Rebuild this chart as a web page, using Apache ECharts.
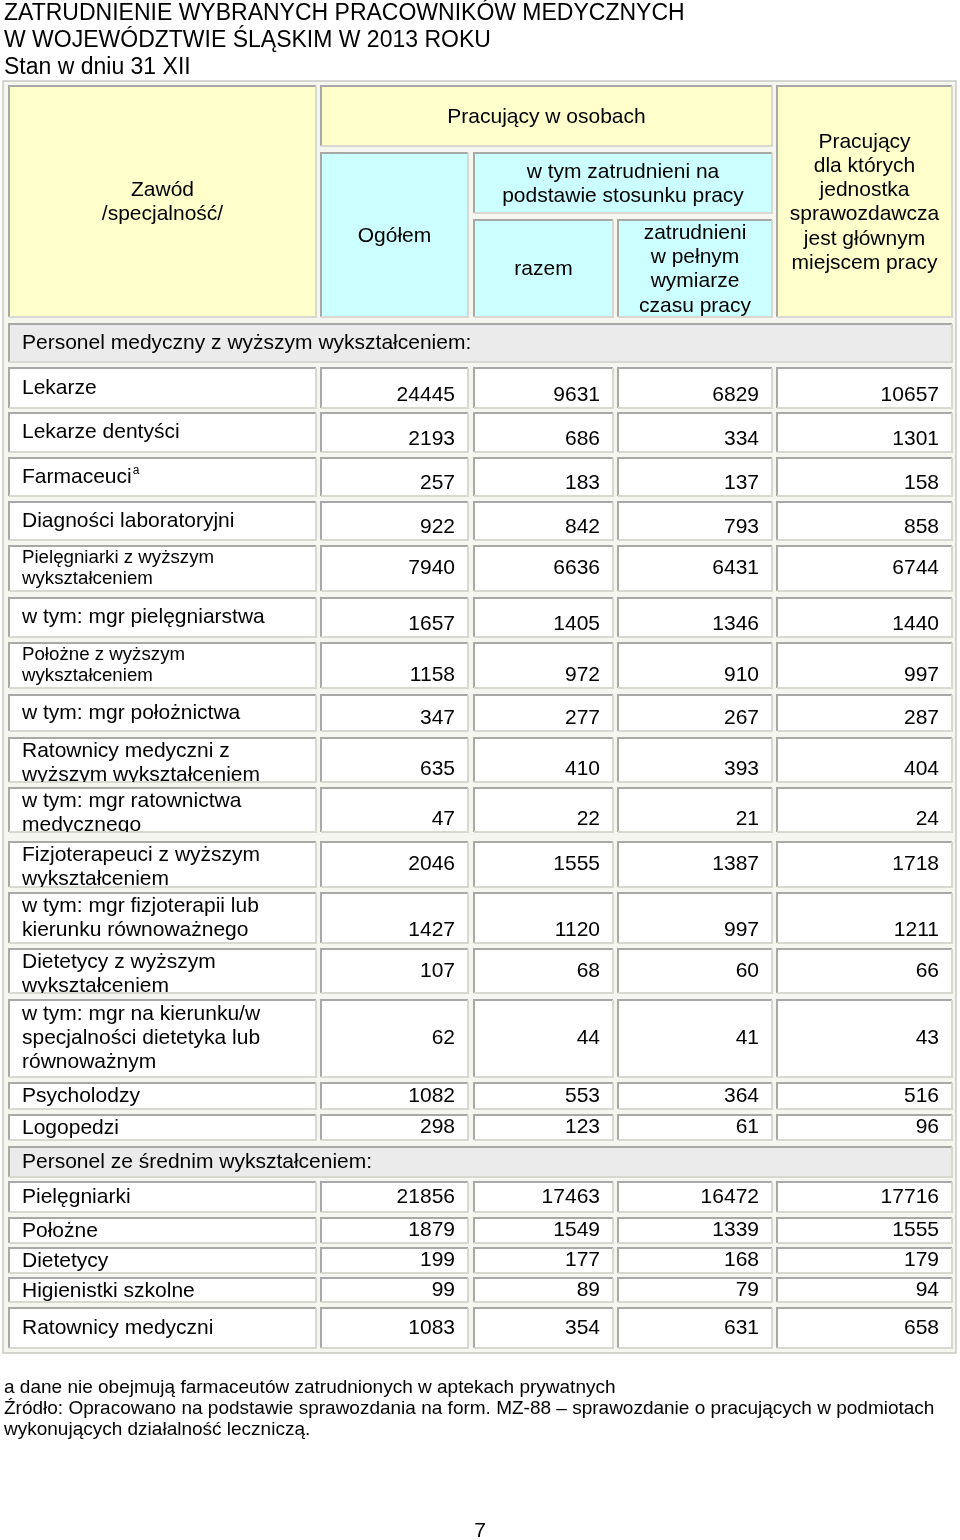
<!DOCTYPE html>
<html>
<head>
<meta charset="utf-8">
<title>Zatrudnienie wybranych pracowników medycznych</title>
<script src="https://cdn.jsdelivr.net/npm/echarts@6/dist/echarts.min.js"></script>
<style>
  html, body { margin: 0; padding: 0; background: #fff; }
  #main { width: 960px; height: 1540px; }
</style>
</head>
<body>
<div id="main"></div>
<script>
// ---- dane ----
var headerLabels = [
  'Zawód\n/specjalność/',
  'Pracujący w osobach',
  'Ogółem',
  'w tym zatrudnieni na\npodstawie stosunku pracy',
  'razem',
  'zatrudnieni\nw pełnym\nwymiarze\nczasu pracy',
  'Pracujący\ndla których\njednostka\nsprawozdawcza\njest głównym\nmiejscem pracy'
];

var groupHigher = 'Personel medyczny z wyższym wykształceniem:';
var professionsHigher = [
  'Lekarze', 'Lekarze dentyści', 'Farmaceuci', 'Diagności laboratoryjni',
  'Pielęgniarki z wyższym\nwykształceniem', 'w tym: mgr pielęgniarstwa',
  'Położne z wyższym\nwykształceniem', 'w tym: mgr położnictwa',
  'Ratownicy medyczni z\nwyższym wykształceniem', 'w tym: mgr ratownictwa\nmedycznego',
  'Fizjoterapeuci z wyższym\nwykształceniem', 'w tym: mgr fizjoterapii lub\nkierunku równoważnego',
  'Dietetycy z wyższym\nwykształceniem', 'w tym: mgr na kierunku/w\nspecjalności dietetyka lub\nrównoważnym',
  'Psycholodzy', 'Logopedzi'
];
var ogolemHigher = [24445, 2193, 257, 922, 7940, 1657, 1158, 347, 635, 47, 2046, 1427, 107, 62, 1082, 298];
var razemHigher  = [9631, 686, 183, 842, 6636, 1405, 972, 277, 410, 22, 1555, 1120, 68, 44, 553, 123];
var pelnyHigher  = [6829, 334, 137, 793, 6431, 1346, 910, 267, 393, 21, 1387, 997, 60, 41, 364, 61];
var glownyHigher = [10657, 1301, 158, 858, 6744, 1440, 997, 287, 404, 24, 1718, 1211, 66, 43, 516, 96];

var groupSecondary = 'Personel ze średnim wykształceniem:';
var professionsSecondary = ['Pielęgniarki', 'Położne', 'Dietetycy', 'Higienistki szkolne', 'Ratownicy medyczni'];
var ogolemSecondary = [21856, 1879, 199, 99, 1083];
var razemSecondary  = [17463, 1549, 177, 89, 354];
var pelnySecondary  = [16472, 1339, 168, 79, 631];
var glownySecondary = [17716, 1555, 179, 94, 658];

var footnoteMarks = { 'Farmaceuci': 'a' };

var titleText = 'ZATRUDNIENIE WYBRANYCH PRACOWNIKÓW MEDYCZNYCH\nW WOJEWÓDZTWIE ŚLĄSKIM W 2013 ROKU\nStan w dniu 31 XII';
var notesText = 'a dane nie obejmują farmaceutów zatrudnionych w aptekach prywatnych\n' +
  'Źródło: Opracowano na podstawie sprawozdania na form. MZ-88 – sprawozdanie o pracujących w podmiotach\n' +
  'wykonujących działalność leczniczą.';
var pageNumber = '7';

// ---- układ (pozycje i style) ----
var YELLOW = '#ffffcc', CYAN = '#ccffff', GREY = '#ebebeb', WHITE = '#ffffff';
var FONT = '"Liberation Sans", Arial, sans-serif';
var FS = 21;
var COLS = [[9, 316], [321, 468], [474, 613], [618, 772], [777, 952]];
var HEADER_BOXES = [
  { x: [9, 316],   y: [86, 317],  fill: YELLOW },
  { x: [321, 772], y: [86, 146],  fill: YELLOW },
  { x: [321, 468], y: [153, 317], fill: CYAN },
  { x: [474, 772], y: [153, 213], fill: CYAN },
  { x: [474, 613], y: [220, 317], fill: CYAN },
  { x: [618, 772], y: [220, 317], fill: CYAN },
  { x: [777, 952], y: [86, 317],  fill: YELLOW }
];
var BAND_GROUP_HIGHER = [324, 362];
var BANDS_HIGHER = [[368, 408], [413, 452], [458, 496], [502, 540], [546, 591], [598, 637], [643, 688],
  [695, 731], [738, 782], [788, 832], [842, 887], [893, 943], [949, 993], [1000, 1077], [1083, 1109], [1115, 1140]];
var VALUE_BOTTOM_HIGHER = [1, 1, 1, 1, 0, 1, 1, 1, 1, 1, 0, 1, 0, 0, 0, 0];
var SMALL_LABEL_HIGHER = [0, 0, 0, 0, 1, 0, 1, 0, 0, 0, 0, 0, 0, 0, 0, 0];
var BAND_GROUP_SECONDARY = [1147, 1177];
var BANDS_SECONDARY = [[1182, 1212], [1218, 1243], [1248, 1273], [1278, 1302], [1308, 1348]];

// ---- komórki ----
var cells = [];
cells.push({ kind: 'frame', x0: 3, y0: 81, x1: 956, y1: 1353 });
HEADER_BOXES.forEach(function (b, i) {
  cells.push({ kind: 'head', x0: b.x[0], y0: b.y[0], x1: b.x[1], y1: b.y[1], fill: b.fill, text: headerLabels[i] });
});

function addGroup(band, label) {
  cells.push({ kind: 'group', x0: COLS[0][0], y0: band[0], x1: COLS[4][1], y1: band[1], fill: GREY, text: label });
}
function addRows(bands, labels, cols, bottomFlags, smallFlags) {
  labels.forEach(function (lab, r) {
    var band = bands[r];
    cells.push({ kind: 'label', x0: COLS[0][0], y0: band[0], x1: COLS[0][1], y1: band[1], fill: WHITE,
      text: lab, mark: footnoteMarks[lab], small: smallFlags ? smallFlags[r] : 0 });
    cols.forEach(function (arr, c) {
      cells.push({ kind: 'value', x0: COLS[c + 1][0], y0: band[0], x1: COLS[c + 1][1], y1: band[1], fill: WHITE,
        text: String(arr[r]), bottom: bottomFlags ? bottomFlags[r] : 0 });
    });
  });
}
addGroup(BAND_GROUP_HIGHER, groupHigher);
addRows(BANDS_HIGHER, professionsHigher, [ogolemHigher, razemHigher, pelnyHigher, glownyHigher],
  VALUE_BOTTOM_HIGHER, SMALL_LABEL_HIGHER);
addGroup(BAND_GROUP_SECONDARY, groupSecondary);
addRows(BANDS_SECONDARY, professionsSecondary, [ogolemSecondary, razemSecondary, pelnySecondary, glownySecondary]);

function renderCell(params, api) {
  var c = cells[params.dataIndex];
  var a = api.coord([c.x0, c.y0]);
  var b = api.coord([c.x1, c.y1]);
  var w = b[0] - a[0], h = b[1] - a[1];
  if (c.kind === 'frame') {
    return { type: 'rect', shape: { x: a[0], y: a[1], width: w, height: h },
      style: { fill: '#f6f6f1', stroke: '#c9c9c4', lineWidth: 1.5 } };
  }
  var children = [
    { type: 'rect', shape: { x: a[0], y: a[1], width: w, height: h }, style: { fill: c.fill } },
    { type: 'polyline', shape: { points: [[a[0], b[1]], [a[0], a[1]], [b[0], a[1]]] },
      style: { stroke: '#a8a8a6', lineWidth: 2, fill: null } },
    { type: 'polyline', shape: { points: [[b[0], a[1]], [b[0], b[1]], [a[0], b[1]]] },
      style: { stroke: '#d8d8d0', lineWidth: 2, fill: null } }
  ];
  var clip = { type: 'rect', shape: { x: a[0], y: a[1] + 1, width: w, height: h - 1 } };
  var mid = (a[1] + b[1]) / 2;
  if (c.kind === 'head') {
    children.push({ type: 'text', style: { text: c.text, x: (a[0] + b[0]) / 2, y: mid + 1, align: 'center',
      verticalAlign: 'middle', fontSize: FS, fontFamily: FONT, lineHeight: 24.3, fill: '#000' } });
  } else if (c.kind === 'group') {
    children.push({ type: 'text', style: { text: c.text, x: a[0] + 13, y: mid, align: 'left',
      verticalAlign: 'middle', fontSize: FS, fontFamily: FONT, fill: '#000' } });
  } else if (c.kind === 'label') {
    var lines = c.text.split('\n').length;
    var lh = c.small ? 21.5 : 24;
    var fs = c.small ? 18.7 : FS;
    var top = Math.max(a[1] + 1, mid - lines * lh / 2);
    var txt = c.mark ? '{n|' + c.text + '}{s|' + c.mark + '}' : c.text;
    children.push({ type: 'text', clipPath: clip, style: { text: txt, x: a[0] + 13, y: top, align: 'left',
      verticalAlign: 'top', fontSize: fs, fontFamily: FONT, lineHeight: lh, fill: '#000',
      rich: {
        n: { fontSize: fs, fontFamily: FONT, lineHeight: lh, fill: '#000' },
        s: { fontSize: 12, fontFamily: FONT, fill: '#000', verticalAlign: 'top', lineHeight: 14, padding: [0, 0, 0, 1] }
      } } });
  } else {
    var ty = c.bottom ? b[1] - 12.5 : mid;
    children.push({ type: 'text', style: { text: c.text, x: b[0] - 13, y: ty, align: 'right',
      verticalAlign: 'middle', fontSize: FS, fontFamily: FONT, fill: '#000' } });
  }
  return { type: 'group', children: children };
}

var chart = echarts.init(document.getElementById('main'));
chart.setOption({
  animation: false,
  backgroundColor: '#ffffff',
  title: [
    { text: titleText, left: 4, top: 0, padding: 0,
      textStyle: { fontSize: 23, lineHeight: 27, fontWeight: 'normal', color: '#000', fontFamily: FONT } },
    { text: notesText, left: 4, top: 1377, padding: 0,
      textStyle: { fontSize: 19, lineHeight: 21, fontWeight: 'normal', color: '#000', fontFamily: FONT } },
    { text: pageNumber, left: 'center', top: 1521, padding: 0,
      textStyle: { fontSize: 21, fontWeight: 'normal', color: '#000', fontFamily: FONT } }
  ],
  grid: { left: 0, right: 0, top: 0, bottom: 0 },
  xAxis: { type: 'value', min: 0, max: 960, show: false },
  yAxis: { type: 'value', min: 0, max: 1540, inverse: true, show: false },
  series: [{
    type: 'custom',
    renderItem: renderCell,
    silent: true,
    clip: false,
    data: cells.map(function (c) { return [c.x0, c.y0]; })
  }]
});
</script>
</body>
</html>
